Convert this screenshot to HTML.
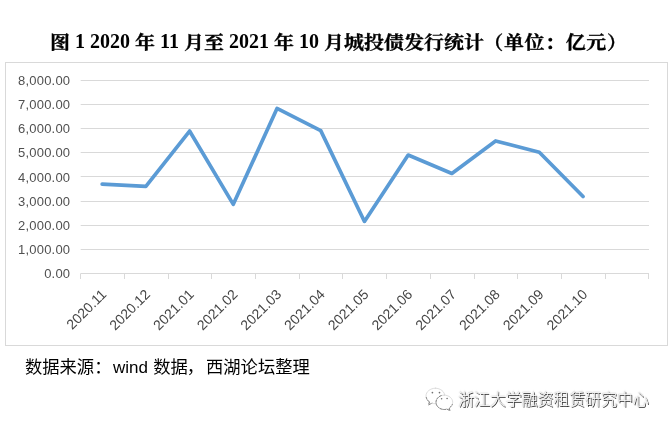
<!DOCTYPE html>
<html lang="zh"><head><meta charset="utf-8"><title>图 1</title>
<style>
html,body{margin:0;padding:0;background:#fff;}
body{width:672px;height:429px;position:relative;overflow:hidden;}
.ax{font-family:"Liberation Sans","Noto Sans CJK SC",sans-serif;font-size:13px;fill:#505050;letter-spacing:0.2px}
.xl{font-size:14px;letter-spacing:0;fill:#454545}
.title{position:absolute;left:0;top:27px;width:672px;text-align:left;font-family:"Liberation Serif","Noto Serif CJK SC",serif;font-weight:bold;font-size:20px;line-height:28px;color:#000;white-space:nowrap;left:50px}
.title .k{-webkit-text-stroke:0.35px #000;position:relative;top:1.4px;display:inline-block;transform:scaleY(0.93);transform-origin:50% 55%}
.cap{position:absolute;left:25px;top:354px;font-family:"Liberation Sans","Noto Sans CJK SC",sans-serif;font-size:17.3px;line-height:26px;color:#000;white-space:nowrap;}
.cap .w{margin-left:1.6px;margin-right:0.4px;font-size:17px}
.cap .c{margin:0 2.1px 0 -1.1px}
.wm{position:absolute;left:458.2px;top:388px;font-family:"Liberation Sans","Noto Sans CJK SC",sans-serif;font-weight:300;font-size:15.9px;line-height:24px;color:#fff;white-space:nowrap;text-shadow:0.8px 0.8px 0.5px rgba(20,20,20,0.9),0 0 1.2px rgba(90,90,90,0.5),0 0 1px rgba(90,90,90,0.35);}
</style></head>
<body>
<div class="title"><span class="k">图</span> 1 2020 <span class="k">年</span> 11 <span class="k">月至</span> 2021 <span class="k">年</span> 10 <span class="k">月城投债发行统计<span style="margin-left:-0.6px;letter-spacing:0.6px">（单位：亿元）</span></span></div>
<svg width="672" height="429" viewBox="0 0 672 429" style="position:absolute;left:0;top:0">
<rect x="5.5" y="62.5" width="662" height="283" fill="#fff" stroke="#d9d9d9" stroke-width="1"/>
<line x1="80.7" x2="649.0" y1="273.5" y2="273.5" stroke="#d9d9d9" stroke-width="1"/>
<text x="70.3" y="277.90" text-anchor="end" class="ax">0.00</text>
<line x1="80.7" x2="649.0" y1="249.5" y2="249.5" stroke="#d9d9d9" stroke-width="1"/>
<text x="70.3" y="253.80" text-anchor="end" class="ax">1,000.00</text>
<line x1="80.7" x2="649.0" y1="225.5" y2="225.5" stroke="#d9d9d9" stroke-width="1"/>
<text x="70.3" y="229.70" text-anchor="end" class="ax">2,000.00</text>
<line x1="80.7" x2="649.0" y1="201.5" y2="201.5" stroke="#d9d9d9" stroke-width="1"/>
<text x="70.3" y="205.60" text-anchor="end" class="ax">3,000.00</text>
<line x1="80.7" x2="649.0" y1="176.5" y2="176.5" stroke="#d9d9d9" stroke-width="1"/>
<text x="70.3" y="181.50" text-anchor="end" class="ax">4,000.00</text>
<line x1="80.7" x2="649.0" y1="152.5" y2="152.5" stroke="#d9d9d9" stroke-width="1"/>
<text x="70.3" y="157.40" text-anchor="end" class="ax">5,000.00</text>
<line x1="80.7" x2="649.0" y1="128.5" y2="128.5" stroke="#d9d9d9" stroke-width="1"/>
<text x="70.3" y="133.30" text-anchor="end" class="ax">6,000.00</text>
<line x1="80.7" x2="649.0" y1="104.5" y2="104.5" stroke="#d9d9d9" stroke-width="1"/>
<text x="70.3" y="109.20" text-anchor="end" class="ax">7,000.00</text>
<line x1="80.7" x2="649.0" y1="80.5" y2="80.5" stroke="#d9d9d9" stroke-width="1"/>
<text x="70.3" y="85.10" text-anchor="end" class="ax">8,000.00</text>
<line x1="80.5" x2="80.5" y1="273.5" y2="279" stroke="#d9d9d9" stroke-width="1"/>
<line x1="124.5" x2="124.5" y1="273.5" y2="279" stroke="#d9d9d9" stroke-width="1"/>
<line x1="168.5" x2="168.5" y1="273.5" y2="279" stroke="#d9d9d9" stroke-width="1"/>
<line x1="211.5" x2="211.5" y1="273.5" y2="279" stroke="#d9d9d9" stroke-width="1"/>
<line x1="255.5" x2="255.5" y1="273.5" y2="279" stroke="#d9d9d9" stroke-width="1"/>
<line x1="299.5" x2="299.5" y1="273.5" y2="279" stroke="#d9d9d9" stroke-width="1"/>
<line x1="342.5" x2="342.5" y1="273.5" y2="279" stroke="#d9d9d9" stroke-width="1"/>
<line x1="386.5" x2="386.5" y1="273.5" y2="279" stroke="#d9d9d9" stroke-width="1"/>
<line x1="430.5" x2="430.5" y1="273.5" y2="279" stroke="#d9d9d9" stroke-width="1"/>
<line x1="474.5" x2="474.5" y1="273.5" y2="279" stroke="#d9d9d9" stroke-width="1"/>
<line x1="517.5" x2="517.5" y1="273.5" y2="279" stroke="#d9d9d9" stroke-width="1"/>
<line x1="561.5" x2="561.5" y1="273.5" y2="279" stroke="#d9d9d9" stroke-width="1"/>
<line x1="605.5" x2="605.5" y1="273.5" y2="279" stroke="#d9d9d9" stroke-width="1"/>
<line x1="648.5" x2="648.5" y1="273.5" y2="279" stroke="#d9d9d9" stroke-width="1"/>
<text transform="translate(100.16,288.00) rotate(-45)" text-anchor="end" class="ax xl" dy="0.72em">2020.11</text>
<text transform="translate(143.87,288.00) rotate(-45)" text-anchor="end" class="ax xl" dy="0.72em">2020.12</text>
<text transform="translate(187.59,288.00) rotate(-45)" text-anchor="end" class="ax xl" dy="0.72em">2021.01</text>
<text transform="translate(231.30,288.00) rotate(-45)" text-anchor="end" class="ax xl" dy="0.72em">2021.02</text>
<text transform="translate(275.02,288.00) rotate(-45)" text-anchor="end" class="ax xl" dy="0.72em">2021.03</text>
<text transform="translate(318.73,288.00) rotate(-45)" text-anchor="end" class="ax xl" dy="0.72em">2021.04</text>
<text transform="translate(362.45,288.00) rotate(-45)" text-anchor="end" class="ax xl" dy="0.72em">2021.05</text>
<text transform="translate(406.17,288.00) rotate(-45)" text-anchor="end" class="ax xl" dy="0.72em">2021.06</text>
<text transform="translate(449.88,288.00) rotate(-45)" text-anchor="end" class="ax xl" dy="0.72em">2021.07</text>
<text transform="translate(493.60,288.00) rotate(-45)" text-anchor="end" class="ax xl" dy="0.72em">2021.08</text>
<text transform="translate(537.31,288.00) rotate(-45)" text-anchor="end" class="ax xl" dy="0.72em">2021.09</text>
<text transform="translate(581.03,288.00) rotate(-45)" text-anchor="end" class="ax xl" dy="0.72em">2021.10</text>
<polyline points="102.16,184.09 145.87,186.40 189.59,131.07 233.30,204.33 277.02,108.41 320.73,130.59 364.45,221.44 408.17,155.05 451.88,173.48 495.60,140.95 539.31,152.28 583.03,196.50" fill="none" stroke="#5b9bd5" stroke-width="3.7" stroke-linejoin="round" stroke-linecap="round"/>
</svg>
<div class="cap">数据来源：<span class="w">wind</span> 数据<span class="c">，</span>西湖论坛整理</div>
<svg width="40" height="32" viewBox="420 384 40 32" style="position:absolute;left:420px;top:384px">
<g fill="#fff" stroke-linejoin="round" stroke-linecap="round">
<path id="wl" d="M435.4 388.2c-5.200 0-9.400 3.500-9.400 7.800 0 2.400 1.300 4.600 3.400 6l-0.800 2.900 3.300-1.700c1.100 0.300 2.300 0.500 3.500 0.500 5.200 0 9.400-3.500 9.400-7.700s-4.200-7.800-9.400-7.800z" stroke="#d4d4d4" stroke-width="0.800"/>
<path d="M429.400 402l-0.800 2.900 3.300-1.700M426.300 397.500c0.400 1.700 1.500 3.300 3.100 4.500" fill="none" stroke="#777" stroke-width="0.900" stroke-dasharray="1.800 1.500"/>
<path d="M444.300 395.100c-4.600 0-8.300 3.200-8.300 7.200s3.700 7.200 8.300 7.200c0.900 0 1.800-0.100 2.600-0.400l3 1.500-0.700-2.600c2.100-1.300 3.500-3.400 3.500-5.700 0-4-3.800-7.200-8.400-7.200z" stroke="#d4d4d4" stroke-width="0.800"/>
<path d="M441.200 395.600c-3 1.100-5.200 3.700-5.200 6.700 0 4 3.700 7.200 8.300 7.200 0.900 0 1.800-0.100 2.600-0.400l3 1.500-0.700-2.600c1.400-0.900 2.500-2.100 3.100-3.500" fill="none" stroke="#777" stroke-width="0.900" stroke-dasharray="2 1.400"/>
</g>
<g fill="#707070"><circle cx="432.400" cy="392.600" r="0.850"/><circle cx="439.500" cy="392.600" r="0.850"/><circle cx="441.600" cy="398.700" r="0.800"/><circle cx="447.100" cy="398.500" r="0.800"/></g>
</svg>
<div class="wm">浙江大学融资租赁研究中心</div>
</body></html>
